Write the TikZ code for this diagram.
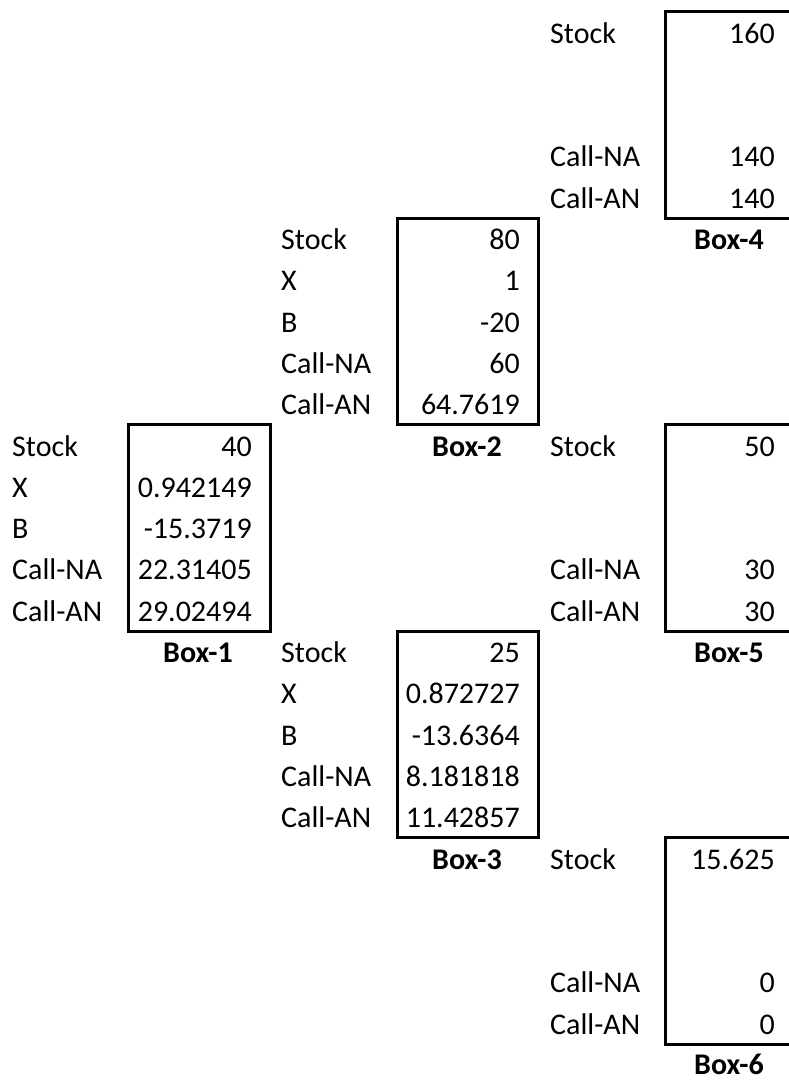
\documentclass[tikz,border=0pt]{standalone}
\usepackage{fontspec}
\setmainfont{Carlito}
\begin{document}
\begin{tikzpicture}[x=1pt,y=-1pt,
  lbl/.style={anchor=base west,inner sep=0pt,font=\fontsize{30}{30}\selectfont},
  val/.style={anchor=base east,inner sep=0pt,font=\fontsize{30}{30}\selectfont},
  boxcap/.style={anchor=base,inner sep=0pt,text depth=0pt,font=\fontsize{30}{30}\selectfont\bfseries},
  tbox/.style={draw,line width=3pt,inner sep=0pt,anchor=north west,minimum height=206.5pt}]
\useasboundingbox (0,0) rectangle (788,1082);
\newcommand{\ry}[1]{43+41.3*#1}
\newcommand{\rb}[1]{10+41.3*#1}
% boxes
\node[tbox,minimum width=142pt] (box1) at (127,{\rb{10}}) {};
\node[tbox,minimum width=141pt] (box2) at (396,{\rb{5}}) {};
\node[tbox,minimum width=141pt] (box3) at (396,{\rb{15}}) {};
\node[tbox,minimum width=128pt] (box4) at (664,{\rb{0}}) {};
\node[tbox,minimum width=128pt] (box5) at (664,{\rb{10}}) {};
\node[tbox,minimum width=128pt] (box6) at (664,{\rb{20}}) {};
% Box-4
\node[lbl] (l4a) at (550,{\ry{0}}) {Stock};   \node[val] (v4a) at (775,{\ry{0}}) {160};
\node[lbl] (l4d) at (550,{\ry{3}}) {Call-NA}; \node[val] (v4d) at (775,{\ry{3}}) {140};
\node[lbl] (l4e) at (550,{\ry{4}}) {Call-AN}; \node[val] (v4e) at (775,{\ry{4}}) {140};
\node[boxcap] (c4) at (729,{\ry{5}}) {Box-4};
% Box-2
\node[lbl] (l2a) at (281,{\ry{5}}) {Stock};   \node[val] (v2a) at (520,{\ry{5}}) {80};
\node[lbl] (l2b) at (281,{\ry{6}}) {X};       \node[val] (v2b) at (520,{\ry{6}}) {1};
\node[lbl] (l2c) at (281,{\ry{7}}) {B};       \node[val] (v2c) at (520,{\ry{7}}) {-20};
\node[lbl] (l2d) at (281,{\ry{8}}) {Call-NA}; \node[val] (v2d) at (520,{\ry{8}}) {60};
\node[lbl] (l2e) at (281,{\ry{9}}) {Call-AN}; \node[val] (v2e) at (520,{\ry{9}}) {64.7619};
\node[boxcap] (c2) at (467,{\ry{10}}) {Box-2};
% Box-1
\node[lbl] (l1a) at (12,{\ry{10}}) {Stock};   \node[val] (v1a) at (252,{\ry{10}}) {40};
\node[lbl] (l1b) at (12,{\ry{11}}) {X};       \node[val] (v1b) at (252,{\ry{11}}) {0.942149};
\node[lbl] (l1c) at (12,{\ry{12}}) {B};       \node[val] (v1c) at (252,{\ry{12}}) {-15.3719};
\node[lbl] (l1d) at (12,{\ry{13}}) {Call-NA}; \node[val] (v1d) at (252,{\ry{13}}) {22.31405};
\node[lbl] (l1e) at (12,{\ry{14}}) {Call-AN}; \node[val] (v1e) at (252,{\ry{14}}) {29.02494};
\node[boxcap] (c1) at (198,{\ry{15}}) {Box-1};
% Box-5
\node[lbl] (l5a) at (550,{\ry{10}}) {Stock};   \node[val] (v5a) at (775,{\ry{10}}) {50};
\node[lbl] (l5d) at (550,{\ry{13}}) {Call-NA}; \node[val] (v5d) at (775,{\ry{13}}) {30};
\node[lbl] (l5e) at (550,{\ry{14}}) {Call-AN}; \node[val] (v5e) at (775,{\ry{14}}) {30};
\node[boxcap] (c5) at (729,{\ry{15}}) {Box-5};
% Box-3
\node[lbl] (l3a) at (281,{\ry{15}}) {Stock};   \node[val] (v3a) at (520,{\ry{15}}) {25};
\node[lbl] (l3b) at (281,{\ry{16}}) {X};       \node[val] (v3b) at (520,{\ry{16}}) {0.872727};
\node[lbl] (l3c) at (281,{\ry{17}}) {B};       \node[val] (v3c) at (520,{\ry{17}}) {-13.6364};
\node[lbl] (l3d) at (281,{\ry{18}}) {Call-NA}; \node[val] (v3d) at (520,{\ry{18}}) {8.181818};
\node[lbl] (l3e) at (281,{\ry{19}}) {Call-AN}; \node[val] (v3e) at (520,{\ry{19}}) {11.42857};
\node[boxcap] (c3) at (467,{\ry{20}}) {Box-3};
% Box-6
\node[lbl] (l6a) at (550,{\ry{20}}) {Stock};   \node[val] (v6a) at (775,{\ry{20}}) {15.625};
\node[lbl] (l6d) at (550,{\ry{23}}) {Call-NA}; \node[val] (v6d) at (775,{\ry{23}}) {0};
\node[lbl] (l6e) at (550,{\ry{24}}) {Call-AN}; \node[val] (v6e) at (775,{\ry{24}}) {0};
\node[boxcap] (c6) at (729,{\ry{25}-1.5}) {Box-6};
\end{tikzpicture}
\end{document}
